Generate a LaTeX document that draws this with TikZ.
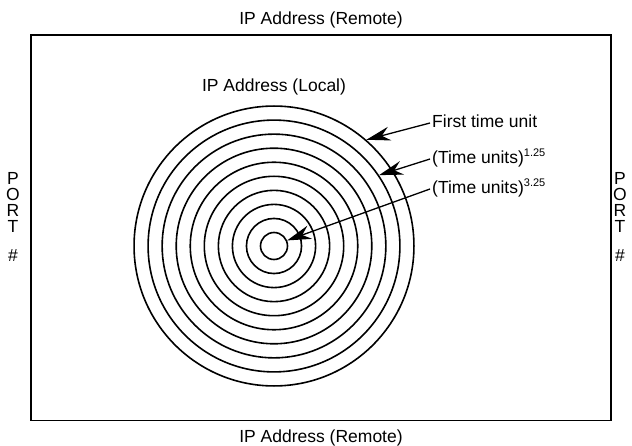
\documentclass[tikz,border=0pt]{standalone}
\usepackage{fontspec}
\setmainfont{Liberation Sans}
\usetikzlibrary{arrows.meta}
\tikzset{
      ring/.style={
        circle,
        draw=black,
        line width=1.6pt,
        inner sep=0pt
      },
      caption/.style={
        font=\fontsize{17.5}{16}\selectfont,
        text height=12.5pt,
        text depth=3.7pt,
        inner sep=2pt
      },
      portcol/.style={
        font=\fontsize{17.5}{16}\selectfont,
        align=center,
        inner sep=0pt
      },
      pointer/.style={
        -{Stealth[length=24pt,width=14pt,inset=8pt]},
        line width=1.3pt
      }
    }
\newcommand{\supnum}[1]{\raisebox{7pt}{\fontsize{11}{11}\selectfont #1}}

\begin{document}
\begin{tikzpicture}[x=1pt,y=-1pt]
    \useasboundingbox (0,0) rectangle (632,446);
    \draw[line width=1.6pt] (31,35) rectangle (611,420.5);
    % labels round the frame
    \node[caption] (remtop) at (321,20) {IP Address (Remote)};
    \node[caption] (rembot) at (321,438.5) {IP Address (Remote)};
    \node[portcol] (portl) at (13,217) {P\\O\\R\\T\\[13pt]\#};
    \node[portcol] (portr) at (620,217) {P\\O\\R\\T\\[13pt]\#};
    % concentric rings
    \foreach \i [evaluate=\i as \d using 27+28.1*(\i-1)] in {1,...,10}
      \node[ring, minimum size=\d pt] (c\i) at (274,246) {};
    \node[caption] (local) at (274,87.5) {IP Address (Local)};
    \node[caption, anchor=west] (first) at (430,123) {First time unit};
    \node[caption, anchor=west] (pow1) at (430,159) {(Time units)\supnum{1.25}};
    \node[caption, anchor=west] (pow3) at (430,189) {(Time units)\supnum{3.25}};
    \draw[pointer] (first.west) -- (c10.49);
    \draw[pointer] (pow1.west) -- (c9.34);
    \draw[pointer] (pow3.west) -- (c1.23);
    \end{tikzpicture}
\end{document}
